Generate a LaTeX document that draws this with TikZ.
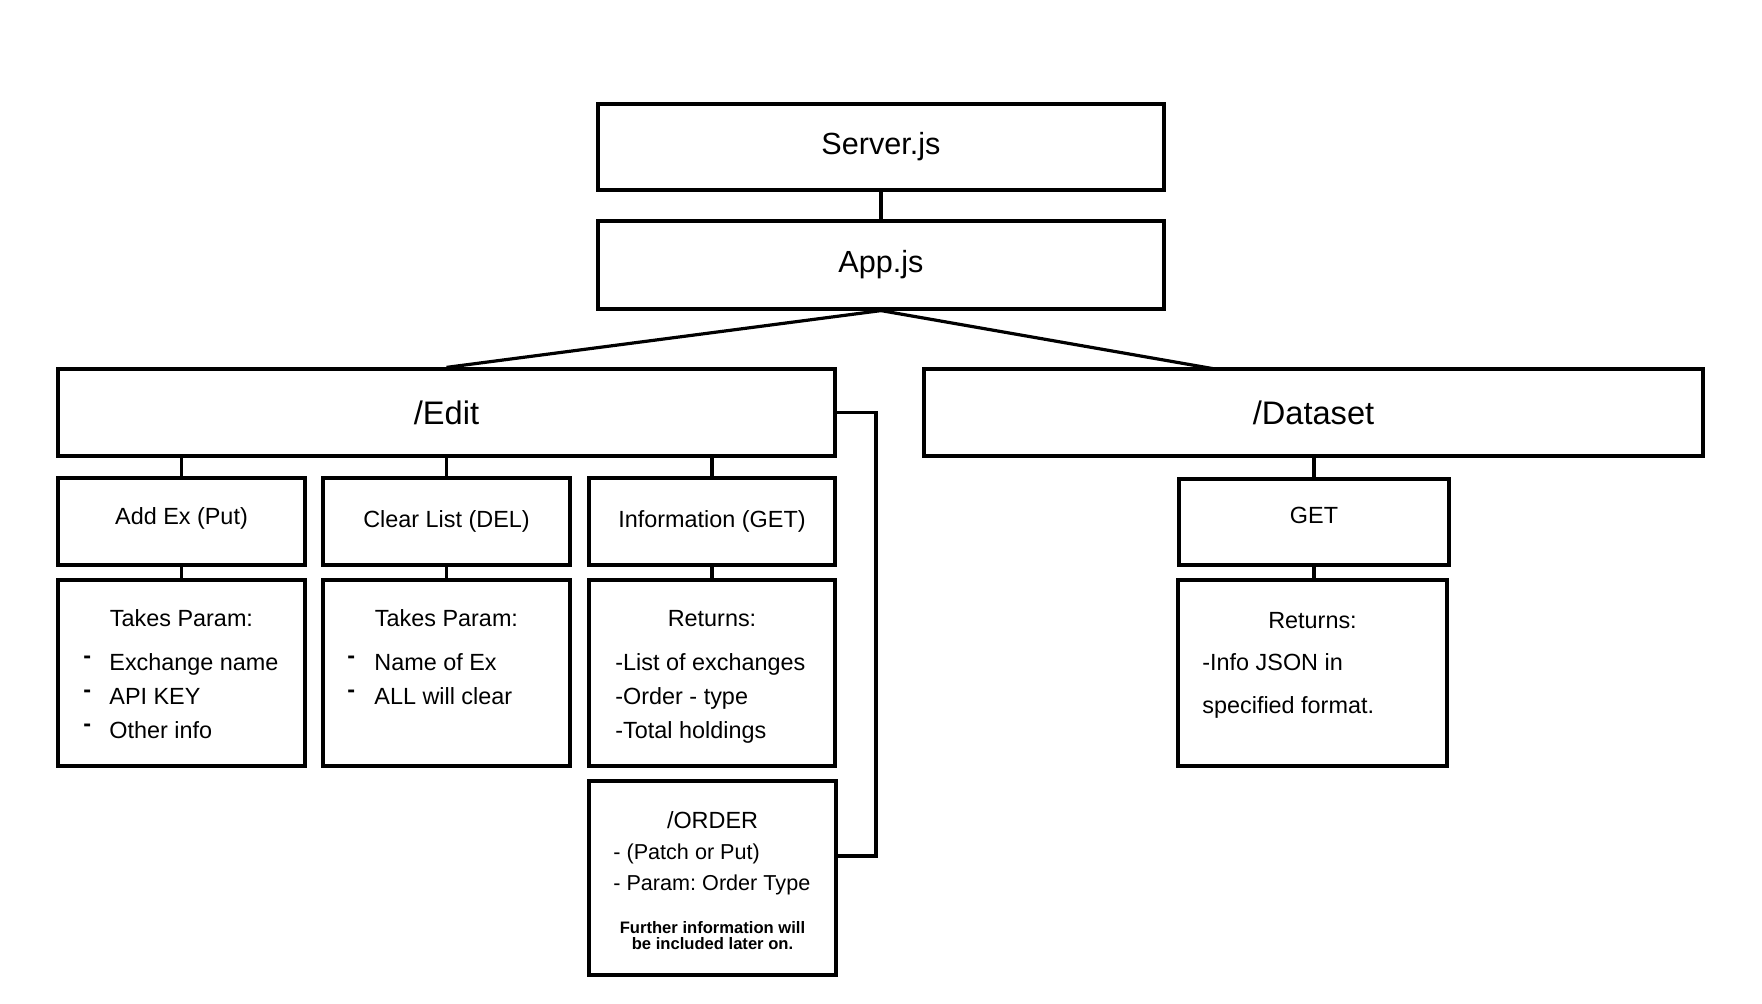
\documentclass[tikz,border=0pt]{standalone}
\usepackage{fontspec}
\setmainfont{Liberation Sans}
\frenchspacing
\begin{document}
\begin{tikzpicture}[x=0.5pt,y=-0.5pt,
  box/.style 2 args={draw, line width=1.6pt, rectangle, inner sep=0pt, minimum width={#1*0.5pt}, minimum height={#2*0.5pt}},
  ln/.style={line width=1.6pt},
  bigtxt/.style={font=\fontsize{15.3}{18}\selectfont},
  biggertxt/.style={font=\fontsize{16.3}{19}\selectfont},
  txt/.style={font=\fontsize{11.7}{14}\selectfont, inner sep=0pt},
  smalltxt/.style={font=\fontsize{10.8}{13}\selectfont, inner sep=0pt},
  tinytxt/.style={font=\bfseries\fontsize{8.3}{10}\selectfont, inner sep=0pt},
  bul/.style={font=\bfseries\fontsize{11.7}{14}\selectfont, inner sep=0pt, anchor=base west}
]
\useasboundingbox (0,0) rectangle (1762,1004);

% boxes
\node[box={566}{86}, bigtxt] (server) at (881,147) {Server.js};
\node[box={566}{88}, bigtxt] (app) at (881,265) {App.js};
\node[box={777}{87}, biggertxt] (edit) at (446.5,412.5) {/Edit};
\node[box={779}{87}, biggertxt] (dataset) at (1313.5,412.5) {/Dataset};

\node[box={247}{87}] (addex) at (181.5,521.5) {};
\node[box={247}{87}] (clear) at (446.5,521.5) {};
\node[box={246}{87}] (info) at (712,521.5) {};
\node[box={247}{186}] (takes1) at (181.5,673) {};
\node[box={247}{186}] (takes2) at (446.5,673) {};
\node[box={246}{186}] (ret1) at (712,673) {};
\node[box={247}{194}] (order) at (712.5,878) {};
\node[box={270}{86}] (get) at (1314,522) {};
\node[box={269}{186}] (ret2) at (1312.5,673) {};

% texts
\node[txt, anchor=base] (taddex) at (181.5,525) {Add Ex (Put)};
\node[txt, anchor=base] (tclear) at (446.5,528) {Clear List (DEL)};
\node[txt, anchor=base] (tinfo) at (712,528) {Information (GET)};
\node[txt, anchor=base] (tget) at (1314,524) {GET};

\node[txt, anchor=base] (tp1) at (181.5,627) {Takes Param:};
\node[bul] (d11) at (83,671) {\raisebox{3.5pt}{-}};
\node[bul] (d12) at (83,705) {\raisebox{3.5pt}{-}};
\node[bul] (d13) at (83,739) {\raisebox{3.5pt}{-}};
\node[txt, anchor=base west] (e11) at (109,671) {Exchange name};
\node[txt, anchor=base west] (e12) at (109,705) {API KEY};
\node[txt, anchor=base west] (e13) at (109,739) {Other info};

\node[txt, anchor=base] (tp2) at (446.5,627) {Takes Param:};
\node[bul] (d21) at (347,671) {\raisebox{3.5pt}{-}};
\node[bul] (d22) at (347,705) {\raisebox{3.5pt}{-}};
\node[txt, anchor=base west] (e21) at (374,671) {Name of Ex};
\node[txt, anchor=base west] (e22) at (374,705) {ALL will clear};

\node[txt, anchor=base] (r1) at (712,627) {Returns:};
\node[txt, anchor=base west] (r11) at (615,671) {-List of exchanges};
\node[txt, anchor=base west] (r12) at (615,705) {-Order - type};
\node[txt, anchor=base west] (r13) at (615,739) {-Total holdings};

\node[txt, anchor=base] (o1) at (712.5,828) {/ORDER};
\node[smalltxt, anchor=base west] (o2) at (613,860) {- (Patch or Put)};
\node[smalltxt, anchor=base west] (o3) at (613,891) {- Param: Order Type};
\node[tinytxt, anchor=base] (o4) at (712.5,933) {Further information will};
\node[tinytxt, anchor=base] (o5) at (712.5,950) {be included later on.};

\node[txt, anchor=base] (r2) at (1312.5,629) {Returns:};
\node[txt, anchor=base west] (r21) at (1202,671) {-Info JSON in};
\node[txt, anchor=base west] (r22) at (1202,714) {specified format.};

% connectors
\coordinate (dtop) at (1215,369);
\coordinate (bk) at (876,856);
\draw[ln] (server.south) -- (app.north);
\draw[ln] (app.south) -- (edit.north);
\draw[ln] (app.south) -- (dtop);
\draw[ln] (addex.north) -- (addex.north |- edit.south);
\draw[ln] (clear.north) -- (clear.north |- edit.south);
\draw[ln] (info.north) -- (info.north |- edit.south);
\draw[ln] (addex.south) -- (takes1.north);
\draw[ln] (clear.south) -- (takes2.north);
\draw[ln] (info.south) -- (ret1.north);
\draw[ln] (edit.east) -| (bk) -- (bk -| order.east);
\draw[ln] (get.north) -- (get.north |- dataset.south);
\draw[ln] (get.south) -- (get.south |- ret2.north);
\end{tikzpicture}
\end{document}
